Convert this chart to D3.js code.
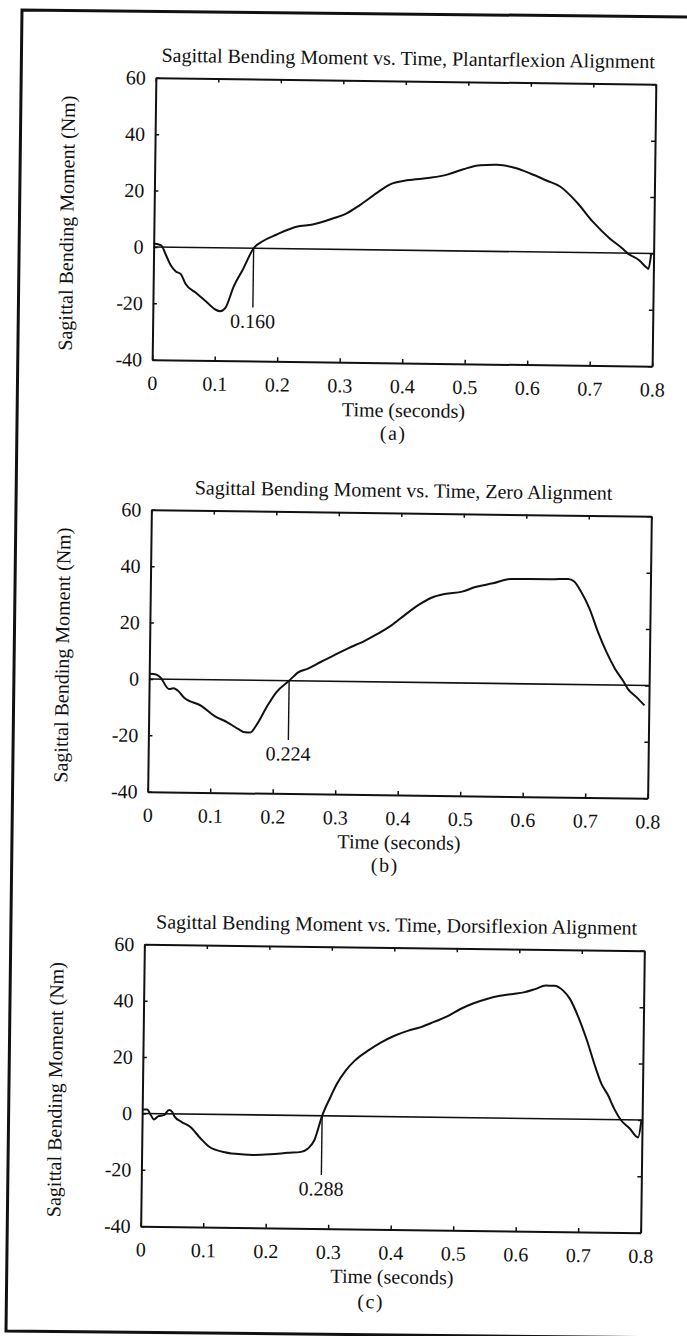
<!DOCTYPE html>
<html>
<head>
<meta charset="utf-8">
<script src="https://cdn.jsdelivr.net/npm/d3@7"></script>
<style>
  body { margin: 0; background: #fff; }
  svg text { font-family: "Liberation Serif", "Times New Roman", serif; fill: #111; }
</style>
</head>
<body>
<div id="chart"></div>
<script>
// Sagittal bending moment vs time, three alignments

// tick values
const xTicks = [0, 0.1, 0.2, 0.3, 0.4, 0.5, 0.6, 0.7, 0.8];
const yTicks = [-40, -20, 0, 20, 40, 60];

// titles, captions and zero crossing times
const titles = [
  "Sagittal Bending Moment vs. Time, Plantarflexion Alignment",
  "Sagittal Bending Moment vs. Time, Zero Alignment",
  "Sagittal Bending Moment vs. Time, Dorsiflexion Alignment"
];
const captions = ["(a)", "(b)", "(c)"];
const crossings = [0.160, 0.224, 0.288];

// (a) plantarflexion
const timeA = [0, 0.012, 0.02, 0.028, 0.036, 0.044, 0.052, 0.068, 0.084, 0.1, 0.108, 0.116, 0.129, 0.143, 0.16,
  0.175, 0.196, 0.228, 0.254, 0.286, 0.308, 0.329, 0.356, 0.377, 0.404, 0.441, 0.468, 0.494, 0.521, 0.548,
  0.574, 0.601, 0.628, 0.649, 0.676, 0.702, 0.729, 0.75, 0.758, 0.777, 0.788, 0.792, 0.796];
const momentA = [1.2, 0.6, -2.9, -6.5, -8.6, -9.5, -13, -16, -18.9, -21.9, -22.5, -21.3, -13.6, -7.7, 0,
  2.6, 4.9, 7.8, 8.7, 10.9, 12.8, 15.8, 20.2, 23.3, 24.8, 25.8, 27, 29, 30.5, 30.7,
  29.8, 27.8, 25.3, 23.3, 17.8, 11, 5.2, 1.6, 0, -2.5, -4.8, -5.5, -0.3];

// (b) zero
const timeB = [0, 0.011, 0.018, 0.032, 0.039, 0.046, 0.056, 0.084, 0.105, 0.126, 0.144, 0.155, 0.163, 0.172, 0.19,
  0.204, 0.224, 0.239, 0.253, 0.274, 0.295, 0.316, 0.344, 0.365, 0.387, 0.408, 0.429, 0.45, 0.471, 0.499,
  0.52, 0.548, 0.576, 0.604, 0.64, 0.668, 0.678, 0.689, 0.703, 0.717, 0.731, 0.745, 0.759, 0.766, 0.78, 0.793];
const momentB = [1.8, 1.6, 0.6, -3.5, -3.2, -4, -6.4, -9.3, -12.8, -15, -17.4, -18.5, -18.5, -16.1, -8.9,
  -4.1, 0, 3.1, 4.3, 6.8, 9.2, 11.6, 14.5, 17.1, 20.2, 23.9, 27.4, 30.1, 31.5, 32.4,
  34.1, 35.5, 37.1, 37.2, 37.2, 37.4, 36.5, 33, 27, 18.8, 11.7, 5.8, 1.3, -1.3, -4.2, -7.1];

// (c) dorsiflexion
const timeC = [0, 0.008, 0.014, 0.019, 0.026, 0.035, 0.043, 0.048, 0.052, 0.063, 0.077, 0.094, 0.108, 0.129, 0.15,
  0.178, 0.206, 0.234, 0.255, 0.266, 0.276, 0.288, 0.301, 0.311, 0.325, 0.339, 0.36, 0.381, 0.402, 0.423,
  0.444, 0.465, 0.486, 0.507, 0.528, 0.549, 0.57, 0.591, 0.608, 0.626, 0.643, 0.657, 0.671, 0.682, 0.696,
  0.71, 0.724, 0.734, 0.745, 0.755, 0.766, 0.78, 0.794, 0.799];
const momentC = [1.4, 1.4, -0.6, -2.1, -0.9, -0.5, 1.3, 0.7, -1, -2.8, -4.5, -8.6, -11.5, -13.2, -13.9,
  -14.2, -13.9, -13.3, -12.9, -11.7, -8.7, 0, 6.7, 11.4, 16.2, 19.7, 23.3, 26.3, 28.7, 30.5,
  31.9, 33.8, 35.8, 38.5, 40.6, 42.2, 43.4, 44.1, 44.7, 45.9, 47.2, 47.2, 45.5, 42.6, 36.1,
  28, 18.6, 12.7, 8.6, 3.9, -0.1, -3, -6.2, 0];

const times = [timeA, timeB, timeC];
const moments = [momentA, momentB, momentC];

// page layout
const width = 687, height = 1336;
const plotW = 500, plotH = 282;
const centers = [[404, 222], [399.5, 654], [392.5, 1088.5]];
const tilt = 0.75; // the scan is slightly rotated
const capDx = [-8, -12, -19];
const capDy = [218, 218, 220];

const svg = d3.select("#chart")
  .append("svg")
  .attr("width", width)
  .attr("height", height);

svg.append("rect").attr("width", width).attr("height", height).attr("fill", "#fff");

// page frame from the scan
svg.append("path")
  .attr("d", "M687,17 L22,10 L6,1331 L687,1338")
  .attr("fill", "none")
  .attr("stroke", "#111")
  .attr("stroke-width", 3);

titles.forEach(function(title, i) {
  const cx = centers[i][0], cy = centers[i][1];
  const g = svg.append("g").attr("transform", `rotate(${tilt}, ${cx}, ${cy})`);

  const x = d3.scaleLinear().domain([0, 0.8]).range([cx - plotW / 2, cx + plotW / 2]);
  const y = d3.scaleLinear().domain([-40, 60]).range([cy + plotH / 2, cy - plotH / 2]);

  // bottom axis with labels
  g.append("g")
    .attr("transform", `translate(0, ${y(-40)})`)
    .call(d3.axisBottom(x).tickValues(xTicks).tickSizeInner(-4).tickSizeOuter(0).tickPadding(16)
      .tickFormat(d => d === 0 ? "0" : d3.format(".1f")(d)));
  // left axis with labels
  g.append("g")
    .attr("transform", `translate(${x(0)}, 0)`)
    .call(d3.axisLeft(y).tickValues(yTicks).tickSizeInner(-4).tickSizeOuter(0).tickPadding(10)
      .tickFormat(d => String(d)));
  // top and right ticks only
  g.append("g")
    .attr("transform", `translate(0, ${y(60)})`)
    .call(d3.axisTop(x).tickValues(xTicks).tickSizeInner(-4).tickSizeOuter(0).tickFormat(""));
  g.append("g")
    .attr("transform", `translate(${x(0.8)}, 0)`)
    .call(d3.axisRight(y).tickValues(yTicks).tickSizeInner(-4).tickSizeOuter(0).tickFormat(""));

  g.selectAll(".domain").attr("stroke", "#111").attr("stroke-width", 2);
  g.selectAll(".tick line").attr("stroke", "#111").attr("stroke-width", 1.5);
  g.selectAll("g").attr("font-family", "Liberation Serif, serif");
  g.selectAll(".tick text").attr("font-size", 20).attr("fill", "#111");

  // zero line
  g.append("line")
    .attr("x1", x(0)).attr("x2", x(0.8))
    .attr("y1", y(0)).attr("y2", y(0))
    .attr("stroke", "#111").attr("stroke-width", 1.6);

  // moment curve
  const pts = times[i].map((t, k) => [t, moments[i][k]]);
  g.append("path")
    .datum(pts)
    .attr("fill", "none")
    .attr("stroke", "#111")
    .attr("stroke-width", 2)
    .attr("stroke-linejoin", "round")
    .attr("d", d3.line().x(d => x(d[0])).y(d => y(d[1])).curve(d3.curveMonotoneX));

  // zero crossing marker
  const c = crossings[i];
  g.append("line")
    .attr("x1", x(c)).attr("x2", x(c))
    .attr("y1", y(0)).attr("y2", y(-21))
    .attr("stroke", "#111").attr("stroke-width", 1.4);
  g.append("text")
    .attr("x", x(c)).attr("y", y(-28.3))
    .attr("text-anchor", "middle")
    .attr("font-size", 20)
    .text(d3.format(".3f")(c));

  // title
  g.append("text")
    .attr("x", cx + 2).attr("y", y(60) - 16)
    .attr("text-anchor", "middle")
    .attr("font-size", 20)
    .text(title);

  // axis titles
  g.append("text")
    .attr("transform", `translate(${x(0) - 80.5}, ${cy + 5.5}) rotate(-90)`)
    .attr("text-anchor", "middle")
    .attr("font-size", 20)
    .text("Sagittal Bending Moment (Nm)");
  g.append("text")
    .attr("x", cx + 2).attr("y", y(-40) + 54)
    .attr("text-anchor", "middle")
    .attr("font-size", 20)
    .text("Time (seconds)");

  // caption
  g.append("text")
    .attr("x", cx + capDx[i]).attr("y", cy + capDy[i])
    .attr("text-anchor", "middle")
    .attr("font-size", 20)
    .attr("letter-spacing", 1.5)
    .text(captions[i]);
});
</script>
</body>
</html>
